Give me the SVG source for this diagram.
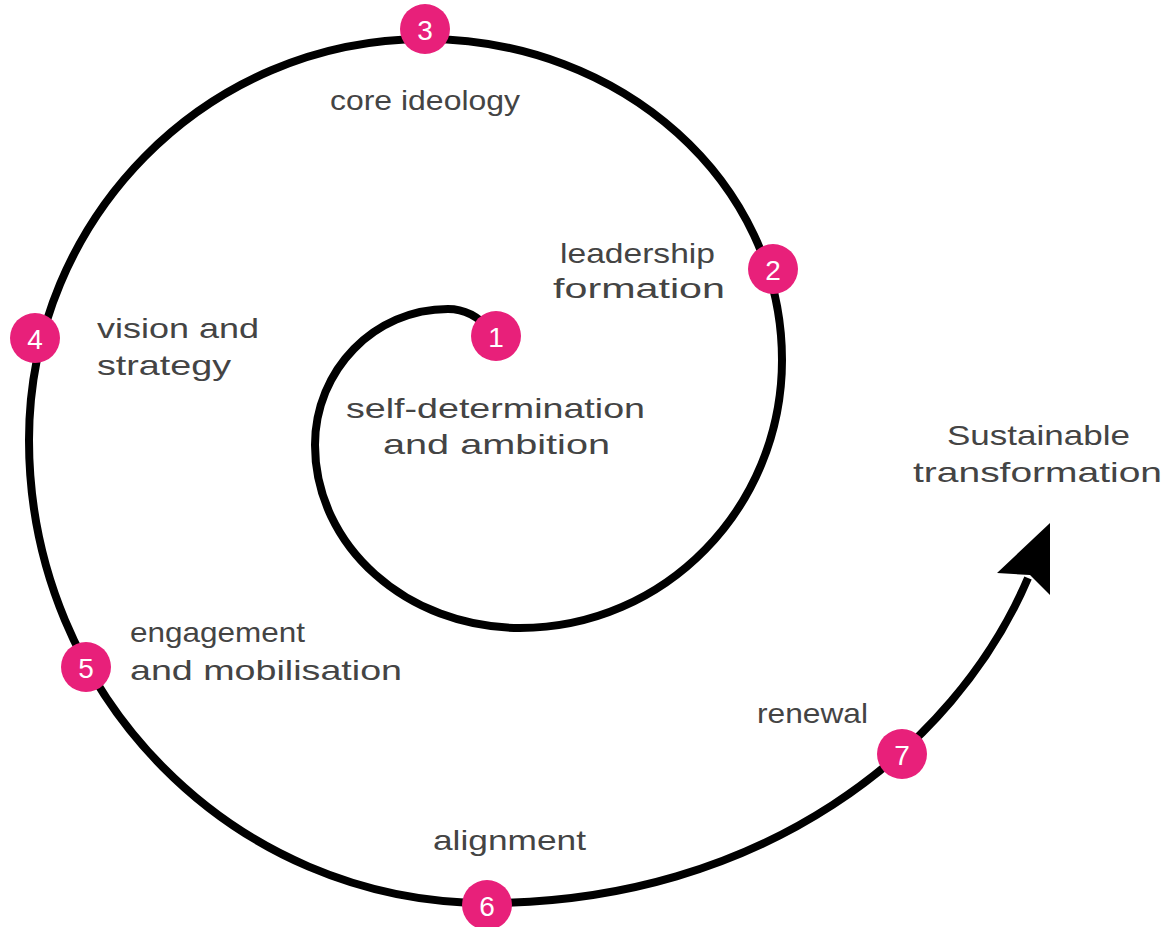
<svg xmlns="http://www.w3.org/2000/svg" width="1164" height="927" viewBox="0 0 1164 927">
<style>
.lbl{font-family:"Liberation Sans","DejaVu Sans",sans-serif;font-size:28px;fill:#444;}
.num{font-family:"Liberation Sans","DejaVu Sans",sans-serif;font-size:28px;fill:#fff;text-anchor:middle;dominant-baseline:central;}
.dot{fill:#E8207A;}
.spiral{fill:none;stroke:#000;stroke-width:8;stroke-linecap:butt;}
</style>
<rect width="1164" height="927" fill="#fff"/>
<g id="connectors">
<path class="spiral" d="M 490 330 C 478 316, 463 309, 448 309 C 374.5 309, 315 369.9, 315 445 C 315 546, 407 628, 520 628 C 664.7 628, 782 508, 782 360 C 782 182.7, 622.2 39, 425 39 C 206.3 39, 29 218.5, 29 440 C 29 695.7, 234 903, 487 903 C 760 903, 955 750, 1028 578"/>
<polygon points="1050,523 997,573 1030,575 1050,595" fill="#000"/>
</g>
<g id="n1"><circle class="dot" cx="496" cy="336" r="25"/><text class="num" x="496" y="337">1</text><text class="lbl" x="346" y="418" textLength="299" lengthAdjust="spacingAndGlyphs">self-determination</text><text class="lbl" x="383" y="454" textLength="227" lengthAdjust="spacingAndGlyphs">and ambition</text></g>
<g id="n2"><circle class="dot" cx="773" cy="269" r="25"/><text class="num" x="773" y="270">2</text><text class="lbl" x="560" y="263" textLength="155" lengthAdjust="spacingAndGlyphs">leadership</text><text class="lbl" x="553" y="298" textLength="172" lengthAdjust="spacingAndGlyphs">formation</text></g>
<g id="n3"><circle class="dot" cx="425" cy="29" r="25"/><text class="num" x="425" y="30">3</text><text class="lbl" x="330" y="110" textLength="190" lengthAdjust="spacingAndGlyphs">core ideology</text></g>
<g id="n4"><circle class="dot" cx="35" cy="338" r="25"/><text class="num" x="35" y="339">4</text><text class="lbl" x="97" y="338" textLength="162" lengthAdjust="spacingAndGlyphs">vision and</text><text class="lbl" x="97" y="375" textLength="134" lengthAdjust="spacingAndGlyphs">strategy</text></g>
<g id="n5"><circle class="dot" cx="86" cy="667" r="25"/><text class="num" x="86" y="668">5</text><text class="lbl" x="130" y="642" textLength="175" lengthAdjust="spacingAndGlyphs">engagement</text><text class="lbl" x="130" y="680" textLength="272" lengthAdjust="spacingAndGlyphs">and mobilisation</text></g>
<g id="n6"><circle class="dot" cx="487" cy="905" r="25"/><text class="num" x="487" y="906">6</text><text class="lbl" x="433" y="850" textLength="153" lengthAdjust="spacingAndGlyphs">alignment</text></g>
<g id="n7"><circle class="dot" cx="902" cy="754" r="25"/><text class="num" x="902" y="755">7</text><text class="lbl" x="757" y="723" textLength="111" lengthAdjust="spacingAndGlyphs">renewal</text></g>
<g id="goal"><text class="lbl" x="947" y="445" textLength="183" lengthAdjust="spacingAndGlyphs">Sustainable</text><text class="lbl" x="913" y="482" textLength="249" lengthAdjust="spacingAndGlyphs">transformation</text></g>
</svg>
